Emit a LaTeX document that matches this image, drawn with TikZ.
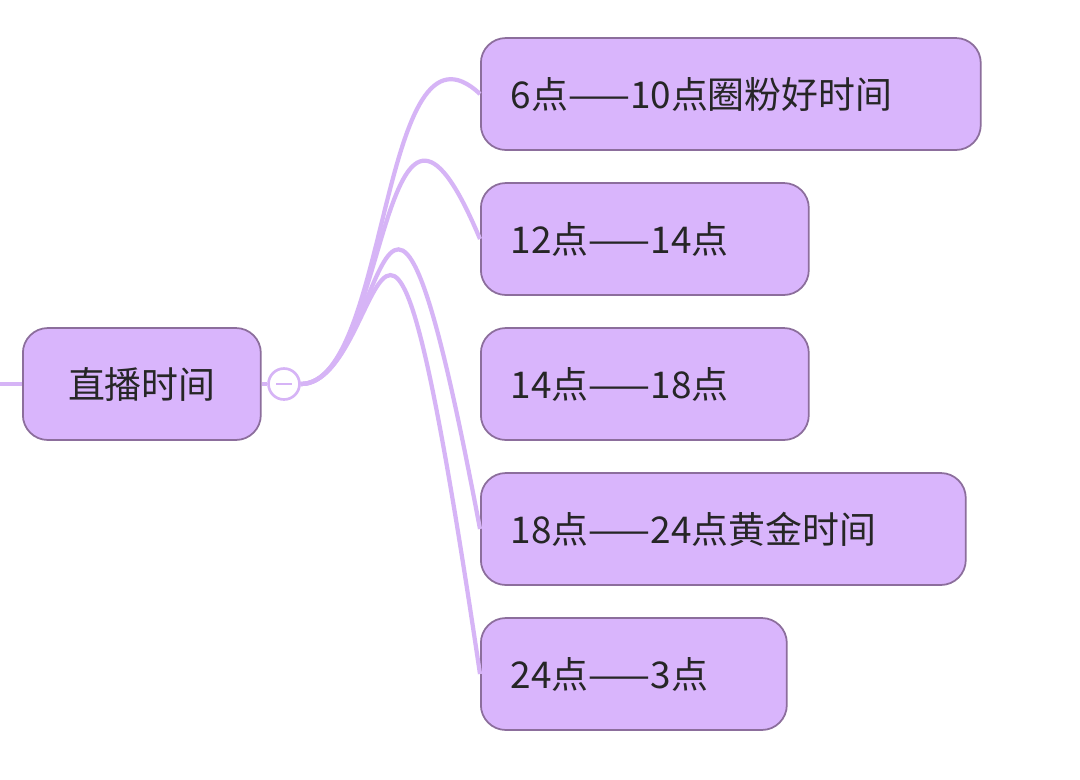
\documentclass[tikz,border=0pt]{standalone}
\usepackage{fontspec}
\setmainfont{Noto Sans CJK SC}
\begin{document}
\begin{tikzpicture}[x=0.02cm,y=-0.02cm,
  box/.style={draw=boxline,fill=boxfill,line width=1pt,rounded corners=0.5cm,minimum height=2.24cm,anchor=west,inner sep=0pt,font=\fontsize{21}{24}\selectfont,text=black!85},
  link/.style={draw=linkc,line width=2.4pt}]
\definecolor{boxfill}{HTML}{D9B5FC}
\definecolor{boxline}{HTML}{8C6E9C}
\definecolor{linkc}{HTML}{D6B4F6}
\useasboundingbox[fill=white] (0,0) rectangle (1080,779);
\node[box,minimum width=4.76cm] (root) at (22,384) {直播时间};
\node[box,minimum width=10cm,text width=8.8cm,align=left] (c1) at (480,94) {6点——10点圈粉好时间};
\node[box,minimum width=6.56cm,text width=5.36cm,align=left] (c2) at (480,239) {12点——14点};
\node[box,minimum width=6.56cm,text width=5.36cm,align=left] (c3) at (480,384) {14点——18点};
\node[box,minimum width=9.7cm,text width=8.5cm,align=left] (c4) at (480,529) {18点——24点黄金时间};
\node[box,minimum width=6.12cm,text width=4.92cm,align=left] (c5) at (480,674) {24点——3点};
\coordinate (l) at (0,384);
\draw[link] (l) -- (root.west);
\node[circle,draw=linkc,line width=1.5pt,fill=white,minimum size=0.62cm,inner sep=0pt] (o) at (284,384) {};
\draw[linkc,line width=1.2pt] (276,384) -- (292,384);
\draw[link] (root.east) -- (o.west);
\foreach \c in {c1,c2,c4,c5}{
  \draw[link] (o.east) .. controls (390,384) and (380,\the\numexpr0\relax) .. (\c.west);
}
\end{tikzpicture}
\end{document}
